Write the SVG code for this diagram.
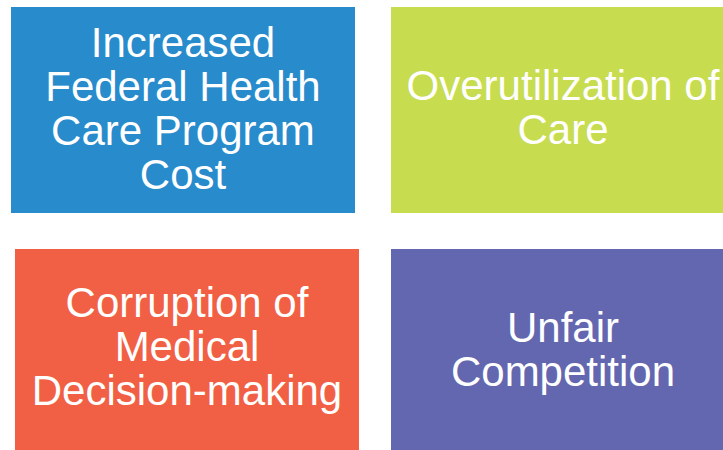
<svg xmlns="http://www.w3.org/2000/svg" width="723" height="450" viewBox="0 0 723 450">
  <style>
    .label { font-family: "Liberation Sans", Arial, sans-serif; font-size: 42px; fill: #ffffff; text-anchor: middle; }
  </style>
  <rect width="723" height="450" fill="#ffffff"/>
  <g id="cost">
    <rect x="11" y="7" width="344" height="206" fill="#278BCC"/>
    <text class="label" x="183" y="57">Increased</text>
    <text class="label" x="183" y="101">Federal Health</text>
    <text class="label" x="183" y="145">Care Program</text>
    <text class="label" x="183" y="189">Cost</text>
  </g>
  <g id="overutilization">
    <rect x="391" y="7" width="344" height="206" fill="#C8DC4F"/>
    <text class="label" x="563" y="100">Overutilization of</text>
    <text class="label" x="563" y="144">Care</text>
  </g>
  <g id="corruption">
    <rect x="15" y="249" width="344" height="210" fill="#F15F44"/>
    <text class="label" x="187" y="317">Corruption of</text>
    <text class="label" x="187" y="361">Medical</text>
    <text class="label" x="187" y="405">Decision-making</text>
  </g>
  <g id="competition">
    <rect x="391" y="249" width="344" height="210" fill="#6367AF"/>
    <text class="label" x="563" y="342">Unfair</text>
    <text class="label" x="563" y="386">Competition</text>
  </g>
  <g id="connectors"/>
</svg>
